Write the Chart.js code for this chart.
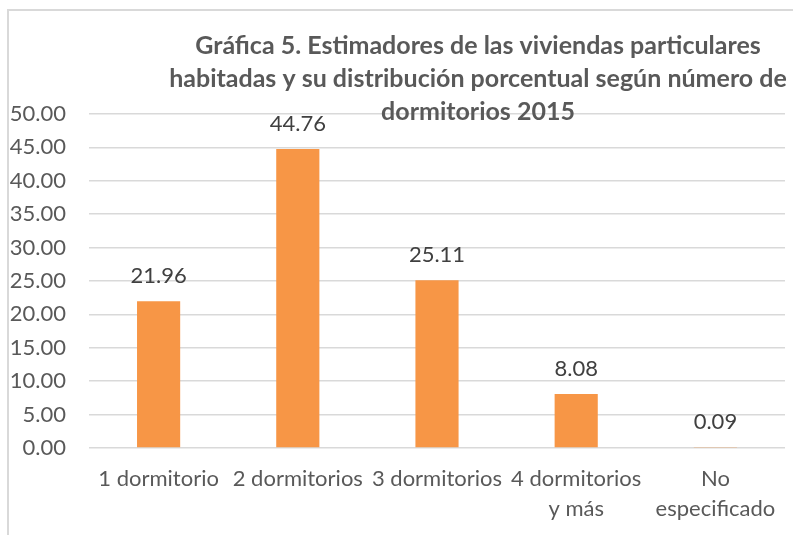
<!DOCTYPE html>
<html>
<head>
<meta charset="utf-8">
<script src="https://cdn.jsdelivr.net/npm/chart.js@4/dist/chart.umd.min.js"></script>
<style>
	body { margin: 0; background: #ffffff; }
	#wrap { position: relative; width: 793px; height: 535px; overflow: hidden; }
	#frame { position: absolute; left: 7px; top: 9px; width: 900px; height: 900px;
		border-left: 2px solid #d9d9d9; border-top: 2px solid #d9d9d9; pointer-events: none; }
</style>
</head>
<body>
<div id="wrap">
	<canvas id="viviendas" width="793" height="535"></canvas>
	<div id="frame"></div>
</div>
<script>
var categories = [
	"1 dormitorio",
	"2 dormitorios",
	"3 dormitorios",
	["4 dormitorios", "y más"],
	["No", "especificado"]
];
var porcentajes = [21.96, 44.76, 25.11, 8.08, 0.09];
var yTicks = [0, 5, 10, 15, 20, 25, 30, 35, 40, 45, 50];
var titleLines = [
	"Gráfica 5. Estimadores de las viviendas particulares",
	"habitadas y su distribución porcentual según número de",
	"dormitorios 2015"
];

Chart.defaults.font.family = "Lato, 'Open Sans', sans-serif";

// etiquetas de valor encima de cada barra
var valueLabels = {
	id: 'valueLabels',
	afterDatasetsDraw: function(chart) {
		var c = chart.ctx;
		var meta = chart.getDatasetMeta(0);
		c.save();
		c.font = "22px Lato";
		c.fillStyle = "#404040";
		c.textAlign = "center";
		c.textBaseline = "alphabetic";
		meta.data.forEach(function(bar, i) {
			c.fillText(porcentajes[i].toFixed(2), bar.x, bar.y - 18);
		});
		c.restore();
	}
};

// titulo de Excel, se encima sobre el area del grafico
var excelTitle = {
	id: 'excelTitle',
	afterDraw: function(chart) {
		var c = chart.ctx;
		var baselines = [53.5, 87, 119.5];
		c.save();
		c.font = "bold 25px Lato";
		c.fillStyle = "#595959";
		c.textAlign = "center";
		c.textBaseline = "alphabetic";
		titleLines.forEach(function(line, i) {
			c.fillText(line, 478, baselines[i]);
		});
		c.restore();
	}
};

var config = {
	type: 'bar',
	data: {
		labels: categories,
		datasets: [{
			data: porcentajes,
			backgroundColor: "#F79646",
			categoryPercentage: 1,
			barPercentage: 0.31
		}]
	},
	options: {
		responsive: false,
		animation: false,
		layout: {
			padding: { top: 114, right: 8, bottom: 0, left: 0 }
		},
		plugins: {
			legend: { display: false },
			title: { display: false },
			tooltip: { enabled: false }
		},
		scales: {
			x: {
				grid: { display: false, drawTicks: false },
				border: { display: false },
				ticks: {
					color: "#595959",
					font: { size: 22, lineHeight: 1.36 },
					padding: 16,
					maxRotation: 0,
					autoSkip: false
				},
				afterFit: function(scale) { scale.height = 87; }
			},
			y: {
				min: 0,
				max: 50,
				afterBuildTicks: function(scale) {
					scale.ticks = yTicks.map(function(v) { return { value: v }; });
				},
				grid: { color: "#d9d9d9", lineWidth: 1.5, drawTicks: false },
				border: { display: false },
				ticks: {
					color: "#595959",
					font: { size: 22 },
					padding: 23,
					callback: function(v) { return Number(v).toFixed(2); }
				},
				afterFit: function(scale) { scale.width = 89; }
			}
		}
	},
	plugins: [valueLabels, excelTitle]
};

var ctx = document.getElementById("viviendas").getContext("2d");
window.myBar = new Chart(ctx, config);
</script>
</body>
</html>
